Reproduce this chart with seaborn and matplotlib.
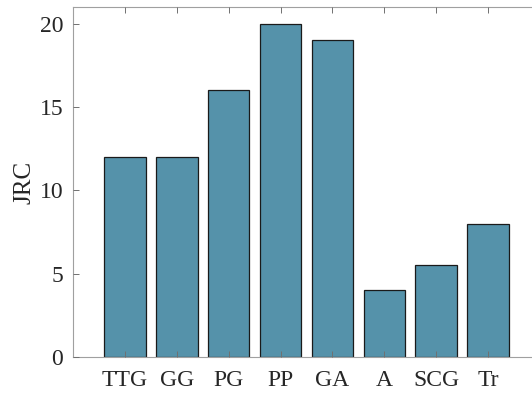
import matplotlib
matplotlib.use("Agg")
import matplotlib.pyplot as plt
import seaborn as sns
import pandas as pd

# Dados
categorias = ["TTG", "GG", "PG", "PP", "GA", "A", "SCG", "Tr"]
jrc = [12, 12, 16, 20, 19, 4, 5.5, 8]

sns.set_style("white")
plt.rcParams["font.family"] = ["Liberation Serif", "DejaVu Serif"]

df = pd.DataFrame({"cat": categorias, "JRC": jrc})

fig = plt.figure(figsize=(5.32, 3.94), dpi=100)
ax = fig.add_axes([73 / 532, 37 / 394, 467 / 532, 350 / 394])

sns.barplot(data=df, x="cat", y="JRC", color="#5592AA", saturation=1,
            width=0.8, edgecolor="#1a1a1a", linewidth=0.9, ax=ax)

ax.set_xlim(-1, 8)
ax.set_ylim(0, 21)
ax.set_yticks([0, 5, 10, 15, 20])
ax.set_xlabel("")
ax.set_ylabel("JRC", fontsize=18, color="#262626", labelpad=3)

for s in ["left", "bottom", "top"]:
    ax.spines[s].set_color("#a0a0a0")
    ax.spines[s].set_linewidth(0.8)
ax.spines["right"].set_visible(False)

ax.tick_params(axis="both", direction="in", length=4, width=0.7, color="#707070",
               labelsize=17, labelcolor="#262626", top=True, left=True, bottom=True)
ax.tick_params(axis="x", pad=9)
ax.tick_params(axis="y", pad=7)
ax.set_axisbelow(False)

fig.savefig("out.png", dpi=100)
